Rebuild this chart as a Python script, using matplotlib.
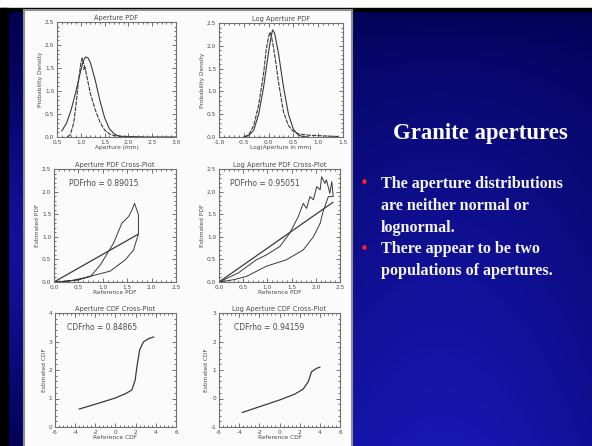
import numpy as np
import matplotlib.pyplot as plt
from matplotlib.patches import Rectangle
from matplotlib.ticker import AutoMinorLocator

# Aperture PDF: fitted normal and measured density
pdf_norm_x = [0.6, 0.7, 0.8, 0.9, 1.0, 1.05, 1.1, 1.15, 1.2, 1.3, 1.4, 1.5, 1.6, 1.7, 1.8, 1.9, 2.2, 2.6, 3.0]
pdf_norm_y = [0.13, 0.3, 0.6, 1.0, 1.45, 1.65, 1.74, 1.72, 1.62, 1.25, 0.8, 0.42, 0.18, 0.07, 0.02, 0.0, 0.0, 0.0, 0.0]
pdf_meas_x = [0.72, 0.78, 0.85, 0.9, 0.95, 1.0, 1.03, 1.06, 1.1, 1.15, 1.2, 1.3, 1.4, 1.5, 1.6, 1.7, 1.8, 2.0, 2.3]
pdf_meas_y = [0.0, 0.05, 0.3, 0.7, 1.2, 1.6, 1.72, 1.6, 1.45, 1.2, 0.95, 0.6, 0.33, 0.15, 0.07, 0.03, 0.02, 0.01, 0.0]

# Log aperture PDF
log_norm_x = [-0.5, -0.4, -0.3, -0.2, -0.1, 0.0, 0.05, 0.08, 0.12, 0.2, 0.3, 0.4, 0.5, 0.6, 0.7, 0.8]
log_norm_y = [0.0, 0.03, 0.15, 0.5, 1.1, 1.87, 2.2, 2.35, 2.28, 1.83, 1.1, 0.5, 0.17, 0.04, 0.01, 0.0]
log_meas_x = [-0.5, -0.4, -0.3, -0.2, -0.1, -0.05, 0.0, 0.03, 0.06, 0.1, 0.15, 0.2, 0.3, 0.4, 0.5, 0.6, 0.8, 1.0, 1.2, 1.4]
log_meas_y = [0.0, 0.05, 0.25, 0.7, 1.4, 1.9, 2.2, 2.3, 2.2, 1.95, 1.6, 1.2, 0.55, 0.25, 0.12, 0.07, 0.04, 0.03, 0.02, 0.01]

# PDF cross-plot loop and fit line
pdf_cross_x = [0.0, 0.3, 0.61, 1.15, 1.46, 1.63, 1.73, 1.73, 1.65, 1.6, 1.53, 1.39, 1.22, 1.12, 0.95, 0.75, 0.48, 0.0]
pdf_cross_y = [0.0, 0.02, 0.09, 0.24, 0.49, 0.71, 1.06, 1.49, 1.74, 1.6, 1.45, 1.3, 0.86, 0.68, 0.38, 0.125, 0.04, 0.0]
pdf_fit_x = [0.0, 1.73]
pdf_fit_y = [0.0, 1.06]
pdf_rho = 0.89015

# Log PDF cross-plot
log_cross_x = [0.0, 0.3, 0.57, 0.98, 1.39, 1.74, 1.95, 2.09, 2.15, 2.26, 2.36, 2.33, 2.29, 2.22, 2.19, 2.12,
               2.09, 2.02, 1.95, 1.88, 1.81, 1.74, 1.64, 1.46, 1.26, 0.98, 0.77, 0.4, 0.0]
log_cross_y = [0.0, 0.05, 0.125, 0.35, 0.49, 0.71, 1.0, 1.3, 1.56, 1.89, 1.89, 2.22, 1.96, 2.26, 2.18, 2.33,
               2.04, 2.11, 1.82, 1.89, 1.63, 1.74, 1.45, 1.08, 0.79, 0.6, 0.49, 0.2, 0.0]
log_fit_x = [0.0, 2.35]
log_fit_y = [0.0, 1.76]
log_pdf_rho = 0.95051

# CDF cross-plots
cdf_x = [-3.6, -2.0, 0.0, 1.0, 1.62, 1.95, 2.12, 2.39, 2.78, 3.28, 3.78]
cdf_y = [0.63, 0.8, 1.02, 1.17, 1.3, 1.65, 2.1, 2.7, 2.99, 3.1, 3.16]
cdf_rho = 0.84865
log_cdf_x = [-3.68, -2.0, 0.03, 1.5, 2.35, 2.85, 3.18, 3.68, 4.0]
log_cdf_y = [-0.49, -0.29, -0.05, 0.15, 0.33, 0.59, 0.94, 1.06, 1.1]
log_cdf_rho = 0.94159

W, H = 592, 446
fig = plt.figure(figsize=(W / 100, H / 100), dpi=100)

# slide background: dark navy at the top, brighter blue lower down
bg = fig.add_axes([0, 0, 1, 1])
bg.set_xlim(0, W)
bg.set_ylim(H, 0)
bg.axis('off')
yy, xx = np.mgrid[0:H, 0:W]
glow = (yy / H) ** 0.6 * np.exp(-((xx - 440) / 260.0) ** 2)
# the narrow strip left of the figure panel carries its own fade
side = np.exp(-((yy - 250) / 150.0) ** 2) * (xx < 30)
glow = np.maximum(glow, 0.75 * side)
img = np.zeros((H, W, 3))
img[..., 0] = 0.09 * glow
img[..., 1] = 0.09 * glow
img[..., 2] = 0.30 + 0.40 * glow
bg.imshow(img, extent=(0, W, H, 0), aspect='auto', zorder=0)
bg.add_patch(Rectangle((0, 0), W, 8, color='white', zorder=1))
bg.add_patch(Rectangle((0, 8), W, 3, color='black', zorder=1))
bg.add_patch(Rectangle((0, 8), 8, H, color='black', zorder=1))
bg.add_patch(Rectangle((24, 10), 328, H, facecolor='#fbfbfb', edgecolor='#909090', lw=1.5, zorder=2))

# right-hand slide text
bg.text(480, 133, 'Granite apertures', color='white', fontsize=16.4, fontweight='bold',
        family='Liberation Serif', ha='center', va='center', zorder=3)
bullet_lines = [
    (184, True, 'The aperture distributions'),
    (206, False, 'are neither normal or'),
    (228, False, 'lognormal.'),
    (249, True, 'There appear to be two'),
    (271, False, 'populations of apertures.'),
]
for y, bullet, line in bullet_lines:
    if bullet:
        bg.text(364, y, '\u2022', color='#ff2020', fontsize=11, ha='center', va='center', zorder=3)
    bg.text(381, y, line, color='#f4f4f4', fontsize=11.6, fontweight='bold',
            family='Liberation Serif', ha='left', va='center', zorder=3)

ink = '#3a3a3a'
txt = '#4a4a4a'


def make_axes(rect, title, xlabel, ylabel, xlim, ylim, xticks, yticks, xfmt, yfmt):
    ax = fig.add_axes(rect)
    ax.set_facecolor('#fbfbfb')
    ax.set_xlim(*xlim)
    ax.set_ylim(*ylim)
    ax.set_xticks(xticks)
    ax.set_yticks(yticks)
    ax.set_xticklabels([xfmt.format(v) for v in xticks])
    ax.set_yticklabels([yfmt.format(v) for v in yticks])
    ax.xaxis.set_minor_locator(AutoMinorLocator(5))
    ax.yaxis.set_minor_locator(AutoMinorLocator(5))
    ax.tick_params(which='both', direction='in', top=True, right=True, colors=ink,
                   labelsize=4.2, labelcolor=txt, width=0.5, pad=2)
    ax.tick_params(which='major', length=3)
    ax.tick_params(which='minor', length=1.5)
    for s in ax.spines.values():
        s.set_color('#707070')
        s.set_linewidth(0.8)
    ax.set_title(title, fontsize=4.8, color=txt, pad=1.5)
    ax.set_xlabel(xlabel, fontsize=4.2, color=txt, labelpad=0.5)
    ax.set_ylabel(ylabel, fontsize=4.2, color=txt, labelpad=1)
    return ax


half = [0.0, 0.5, 1.0, 1.5, 2.0, 2.5]

ax1 = make_axes([57 / W, 1 - 137 / H, 119 / W, 115 / H], 'Aperture PDF', 'Aperture (mm)',
                'Probability Density', (0.5, 3.0), (0, 2.5),
                [0.5, 1.0, 1.5, 2.0, 2.5, 3.0], half, '{:.1f}', '{:.1f}')
ax1.plot(pdf_norm_x, pdf_norm_y, color=ink, lw=0.8)
ax1.plot(pdf_meas_x, pdf_meas_y, color=ink, lw=0.8, ls=(0, (4, 1)))
ax1.plot([1.06], [1.49], marker='x', ms=2, color=ink, mew=0.6)

ax2 = make_axes([219 / W, 1 - 137 / H, 124 / W, 114 / H], 'Log Aperture PDF', 'Log(Aperture in mm)',
                'Probability Density', (-1.0, 1.5), (0, 2.5),
                [-1.0, -0.5, 0.0, 0.5, 1.0, 1.5], half, '{:.1f}', '{:.1f}')
ax2.plot(log_norm_x, log_norm_y, color=ink, lw=0.8)
ax2.plot(log_meas_x, log_meas_y, color=ink, lw=0.8, ls=(0, (4, 1)))

ax3 = make_axes([54 / W, 1 - 282 / H, 122 / W, 113 / H], 'Aperture PDF Cross-Plot', 'Reference PDF',
                'Estimated PDF', (0, 2.5), (0, 2.5), half, half, '{:.1f}', '{:.1f}')
ax3.plot(pdf_cross_x, pdf_cross_y, color=ink, lw=0.7)
ax3.plot(pdf_fit_x, pdf_fit_y, color=ink, lw=0.9)
ax3.text(0.3, 2.18, f'PDFrho = {pdf_rho:.5f}', fontsize=5.5, color=txt, va='center')

ax4 = make_axes([219 / W, 1 - 282 / H, 121 / W, 113 / H], 'Log Aperture PDF Cross-Plot', 'Reference PDF',
                'Estimated PDF', (0, 2.5), (0, 2.5), half, half, '{:.1f}', '{:.1f}')
ax4.plot(log_cross_x, log_cross_y, color=ink, lw=0.7)
ax4.plot(log_fit_x, log_fit_y, color=ink, lw=0.9)
ax4.text(0.22, 2.18, f'PDFrho = {log_pdf_rho:.5f}', fontsize=5.5, color=txt, va='center')

six = [-6, -4, -2, 0, 2, 4, 6]
ax5 = make_axes([55 / W, 1 - 427 / H, 121 / W, 114 / H], 'Aperture CDF Cross-Plot', 'Reference CDF',
                'Estimated CDF', (-6, 6), (0, 4), six, [0, 1, 2, 3, 4], '{:d}', '{:d}')
ax5.plot(cdf_x, cdf_y, color=ink, lw=0.9)
ax5.text(-4.8, 3.5, f'CDFrho = {cdf_rho:.5f}', fontsize=5.5, color=txt, va='center')

ax6 = make_axes([219 / W, 1 - 427 / H, 121 / W, 114 / H], 'Log Aperture CDF Cross-Plot', 'Reference CDF',
                'Estimated CDF', (-6, 6), (-1, 3), six, [-1, 0, 1, 2, 3], '{:d}', '{:d}')
ax6.plot(log_cdf_x, log_cdf_y, color=ink, lw=0.9)
ax6.text(-4.5, 2.5, f'CDFrho = {log_cdf_rho:.5f}', fontsize=5.5, color=txt, va='center')

fig.savefig('out.png', dpi=100)
